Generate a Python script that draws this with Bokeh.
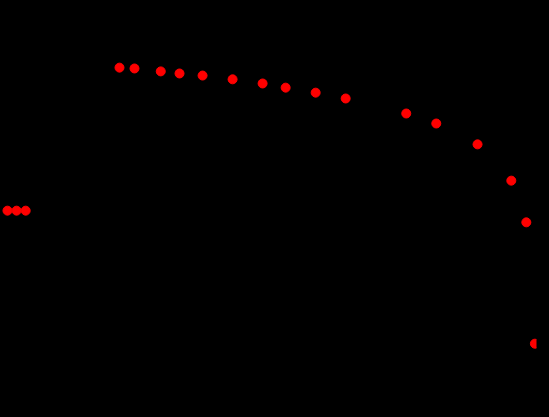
from bokeh.plotting import figure
from bokeh.models import Range1d
from bokeh.embed import file_html
from bokeh.resources import INLINE

# Values (arbitrary 0-100 units on both axes)
x_left = [1.3, 3.0, 4.7]
y_left = [49.6, 49.6, 49.6]

x_curve = [22.2, 25.0, 29.9, 33.4, 37.7, 43.3, 48.9, 53.2, 58.8, 64.4,
           75.7, 81.3, 89.0, 95.3, 98.1, 99.7]
y_curve = [83.9, 83.7, 83.0, 82.5, 82.0, 81.1, 80.1, 79.1, 77.9, 76.5,
           72.9, 70.5, 65.5, 56.8, 46.8, 17.7]

p = figure(width=549, height=417, output_backend="svg", toolbar_location=None,
           x_range=Range1d(0, 100), y_range=Range1d(0, 100),
           min_border_left=0, min_border_top=0, min_border_bottom=0,
           min_border_right=13)
p.background_fill_color = "black"
p.border_fill_color = "black"
p.outline_line_color = None
p.axis.visible = False
p.grid.visible = False

p.scatter(x_left, y_left, size=9, color="red")
p.scatter(x_curve, y_curve, size=9, color="red")

TEMPLATE = """{% block postamble %}<style>html, body { margin: 0; padding: 0; background: #000; }</style>{% endblock %}"""

open("out.html", "w").write(file_html(p, INLINE, template=TEMPLATE))
